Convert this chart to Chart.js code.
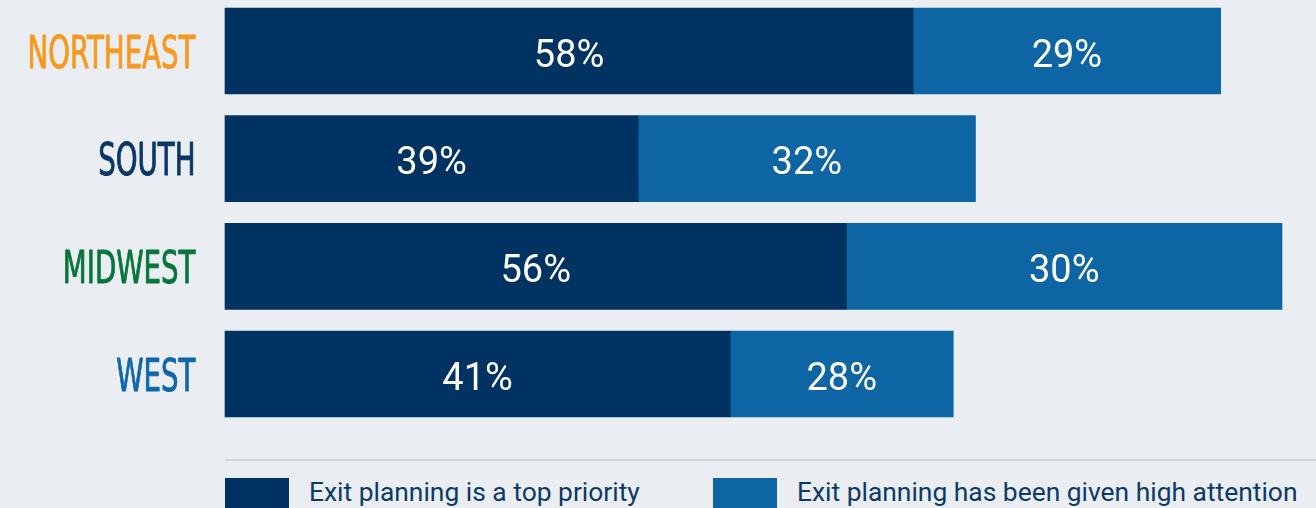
<!DOCTYPE html>
<html>
<head>
<meta charset="utf-8">
<script src="https://cdn.jsdelivr.net/npm/chart.js@4.4.1/dist/chart.umd.min.js"></script>
<style>
    body { margin: 0; background: #eaeef3; overflow: hidden; width: 1316px; height: 508px; position: relative; }
    #wrap { position: absolute; left: 0; top: 0; width: 1316px; height: 460px; }
    #rule { position: absolute; left: 225px; top: 459px; width: 1091px; height: 2px; background: #cdd6e1; }
    .lgBox { position: absolute; top: 478px; width: 64px; height: 40px; }
    .lgText { position: absolute; top: 477px; font: 26.4px Roboto, sans-serif; line-height: 30px; color: #0c3a66; white-space: nowrap; }
</style>
</head>
<body>
<div id="wrap"><canvas id="chartRegions" width="1316" height="460"></canvas></div>
<div id="rule"></div>
<div id="legend"></div>
<script>
/*regions and the printed percentages*/
const regions = ["NORTHEAST", "SOUTH", "MIDWEST", "WEST"];
const regionColors = ["#f7991f", "#0a3664", "#077539", "#0f67aa"];
const seriesNames = ["Exit planning is a top priority", "Exit planning has been given high attention"];
const topPriorityLabels = [58, 39, 56, 41];
const highAttentionLabels = [29, 32, 30, 28];
// bar lengths as drawn in the picture (they don't follow the labels exactly)
const topPriorityBars = [65.1, 39.1, 58.8, 47.8];
const highAttentionBars = [29.1, 31.9, 41.2, 21.1];
const DARK = "#003361";
const LIGHT = "#0d65a4";
const LEGEND_X = [225, 713];

var ctxRegions = document.getElementById("chartRegions").getContext("2d");

const barValueLabels = {
    id: "barValueLabels",
    afterDatasetsDraw(chart) {
        let ctx = chart.ctx;
        const printed = [topPriorityLabels, highAttentionLabels];
        ctx.save();
        ctx.font = "38px Roboto";
        ctx.fillStyle = "#ffffff";
        ctx.textAlign = "center";
        ctx.textBaseline = "alphabetic";
        chart.data.datasets.forEach(function(ds, d) {
            chart.getDatasetMeta(d).data.forEach(function(bar, i) {
                ctx.fillText(printed[d][i] + "%", (bar.x + bar.base) / 2, bar.y + 15.5);
            });
        });
        ctx.restore();
    }
};

// region names in a condensed face, squeezed to the width seen in the picture
const regionLabels = {
    id: "regionLabels",
    afterDraw(chart) {
        let ctx = chart.ctx;
        let yScale = chart.scales.y;
        ctx.save();
        ctx.font = "44px 'Liberation Sans Narrow', 'DejaVu Sans Condensed', sans-serif";
        let squeeze = 168 / ctx.measureText("NORTHEAST").width;
        ctx.textAlign = "right";
        ctx.textBaseline = "alphabetic";
        ctx.lineWidth = 0.9;
        ctx.lineJoin = "round";
        for (let i = 0; i < regions.length; i++) {
            ctx.save();
            ctx.translate(195.5, yScale.getPixelForValue(i) + 16.5);
            ctx.scale(squeeze, 1);
            ctx.fillStyle = regionColors[i];
            ctx.strokeStyle = regionColors[i];
            ctx.fillText(regions[i], 0, 0);
            ctx.strokeText(regions[i], 0, 0);
            ctx.restore();
        }
        ctx.restore();
    }
};

var chartRegions = new Chart(ctxRegions, {
    type: "bar",
    data: {
        labels: regions,
        datasets: [
            {label: seriesNames[0], data: topPriorityBars, backgroundColor: DARK},
            {label: seriesNames[1], data: highAttentionBars, backgroundColor: LIGHT}
        ]
    },
    options: {
        indexAxis: "y",
        responsive: false,
        animation: false,
        devicePixelRatio: 1,
        layout: {padding: {left: 225, right: 34, top: 51, bottom: 86}},
        datasets: {bar: {barThickness: 86, clip: false, borderWidth: 0}},
        scales: {
            x: {stacked: true, min: 0, max: 100, display: false},
            y: {stacked: true, offset: false, display: false}
        },
        plugins: {
            legend: {display: false},
            tooltip: {enabled: false}
        }
    },
    plugins: [barValueLabels, regionLabels]
});

/*html legend under the rule*/
var legendHtml = "";
chartRegions.data.datasets.forEach(function(ds, i) {
    legendHtml += '<div class="lgBox" style="left:' + LEGEND_X[i] + 'px;background:' + ds.backgroundColor + '"></div>';
    legendHtml += '<div class="lgText" style="left:' + (LEGEND_X[i] + 84) + 'px">' + ds.label + '</div>';
});
document.getElementById("legend").innerHTML = legendHtml;
</script>
</body>
</html>
